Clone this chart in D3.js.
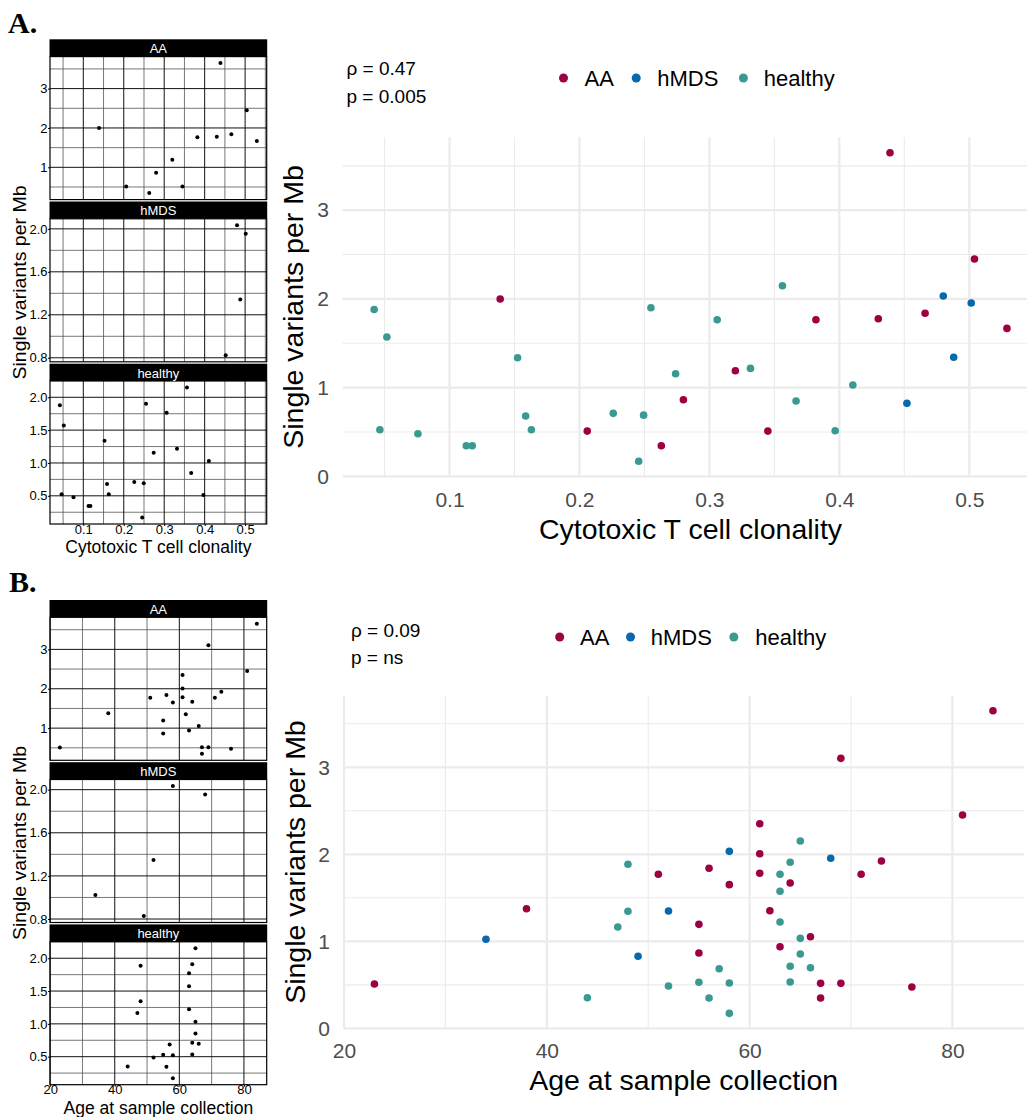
<!DOCTYPE html>
<html>
<head>
<meta charset="utf-8">
<script src="https://cdn.jsdelivr.net/npm/d3@7"></script>
<style>
  body { margin: 0; background: #fff; }
  svg { display: block; font-family: "Liberation Sans", Arial, Helvetica, sans-serif; }
</style>
</head>
<body>
<svg id="fig" width="1027" height="1117"></svg>
<script>
// ---- groups ----
const groups = ["AA", "hMDS", "healthy"];
const groupColors = { AA: "#9E0142", hMDS: "#0868AC", healthy: "#3A9A92" };

// ---- A: cytotoxic T cell clonality vs single variants per Mb ----
const clonalityAA = [0.139, 0.206, 0.263, 0.280, 0.320, 0.345, 0.382, 0.430, 0.439, 0.466, 0.504, 0.529];
const clonVariantsAA = [2.00, 0.51, 0.345, 0.864, 1.19, 0.51, 1.766, 1.777, 3.648, 1.838, 2.45, 1.668];
const clonalityMDS = [0.452, 0.480, 0.488, 0.5015];
const clonVariantsMDS = [0.823, 2.033, 1.342, 1.954];
const clonalityHealthy = [0.042, 0.0518, 0.0464, 0.0757, 0.1129, 0.1175, 0.1524, 0.1586, 0.163, 0.226,
                          0.2494, 0.2456, 0.255, 0.274, 0.306, 0.3316, 0.3562, 0.3667, 0.3968, 0.4104];
const clonVariantsHealthy = [1.88, 1.57, 0.525, 0.48, 0.345, 0.345, 1.337, 0.68, 0.525, 0.71,
                             0.69, 0.17, 1.90, 1.157, 1.766, 1.217, 2.149, 0.849, 0.514, 1.029];
const clonalityTicks = [0.1, 0.2, 0.3, 0.4, 0.5];
const clonalityStats = ["\u03C1 = 0.47", "p = 0.005"];

// ---- B: age at sample collection vs single variants per Mb ----
const ageAA = [23, 38, 51, 56, 58, 55, 55, 61, 61, 61, 62, 63, 64, 66, 67, 67, 69, 69, 71, 73, 76, 81, 84];
const ageVariantsAA = [0.509, 1.375, 1.77, 1.839, 1.651, 1.195, 0.865, 2.352, 2.007, 1.782, 1.352, 0.938,
                       1.67, 1.053, 0.517, 0.348, 0.517, 3.103, 1.77, 1.923, 0.475, 2.452, 3.65];
const ageMDS = [34, 49, 52, 58, 68];
const ageVariantsMDS = [1.023, 0.828, 1.348, 2.034, 1.954];
const ageHealthy = [48, 48, 47, 44, 52, 57, 55, 58, 56, 58, 63, 63, 63, 64, 65, 65, 65, 64, 66, 64];
const ageVariantsHealthy = [1.885, 1.345, 1.164, 0.352, 0.486, 0.685, 0.529, 0.521, 0.348, 0.172,
                            1.77, 1.575, 1.222, 1.908, 2.153, 1.034, 0.854, 0.713, 0.697, 0.532];
const ageTicks = [20, 40, 60, 80];
const ageStats = ["\u03C1 = 0.09", "p = ns"];

// ---- shared y ticks ----
const variantTicksMain = [0, 1, 2, 3];
const variantTicksFacet = {
  AA: [1, 2, 3],
  hMDS: [0.8, 1.2, 1.6, 2.0],
  healthy: [0.5, 1.0, 1.5, 2.0]
};
const facetTickFormat = { AA: d3.format("d"), hMDS: d3.format(".1f"), healthy: d3.format(".1f") };
const yTitle = "Single variants per Mb";

// ---- helpers ----
function expandDomain(vals) {
  const [lo, hi] = d3.extent(vals);
  const pad = (hi - lo) * 0.05;
  return [lo - pad, hi + pad];
}
function minorTicks(major, domain) {
  const step = major[1] - major[0];
  const out = [];
  for (let k = -1; k < major.length + 1; k++) {
    const v = major[0] + step * (k + 0.5);
    if (v >= domain[0] && v <= domain[1]) out.push(v);
  }
  return out;
}

const fig = d3.select("#fig");

function drawFigure(cfg) {
  const series = groups.map(g => ({ group: g, x: cfg.xs[g], y: cfg.ys[g] }));
  const allX = series.flatMap(s => s.x);
  const allY = series.flatMap(s => s.y);
  const xDomain = expandDomain(allX);
  const xMinor = minorTicks(cfg.xTicks, xDomain);

  // panel letter
  fig.append("text")
    .attr("x", cfg.letterX).attr("y", cfg.letterY)
    .attr("font-family", "'Liberation Serif', 'Times New Roman', serif")
    .attr("font-weight", "bold").attr("font-size", 30)
    .text(cfg.letter);

  // ---------- small faceted panels ----------
  const f = cfg.facet;
  const fx = d3.scaleLinear().domain(xDomain).range([f.left, f.right]);
  series.forEach((s, i) => {
    const stripTop = f.top + i * f.step;
    const pTop = stripTop + f.stripH;
    const pBot = pTop + f.panelH;
    const yDom = expandDomain(s.y);
    const fy = d3.scaleLinear().domain(yDom).range([pBot, pTop]);
    const yMajor = variantTicksFacet[s.group];
    const yMinor = minorTicks(yMajor, yDom);
    const g = fig.append("g");

    g.append("rect").attr("x", f.left).attr("y", pTop)
      .attr("width", f.right - f.left).attr("height", f.panelH).attr("fill", "#fff");

    // minor grid
    g.selectAll(null).data(xMinor).join("line")
      .attr("x1", d => fx(d)).attr("x2", d => fx(d)).attr("y1", pTop).attr("y2", pBot)
      .attr("stroke", "#555").attr("stroke-width", 0.8);
    g.selectAll(null).data(yMinor).join("line")
      .attr("x1", f.left).attr("x2", f.right).attr("y1", d => fy(d)).attr("y2", d => fy(d))
      .attr("stroke", "#555").attr("stroke-width", 0.8);
    // major grid
    g.selectAll(null).data(cfg.xTicks.filter(d => d >= xDomain[0] && d <= xDomain[1])).join("line")
      .attr("x1", d => fx(d)).attr("x2", d => fx(d)).attr("y1", pTop).attr("y2", pBot)
      .attr("stroke", "#111").attr("stroke-width", 1);
    g.selectAll(null).data(yMajor).join("line")
      .attr("x1", f.left).attr("x2", f.right).attr("y1", d => fy(d)).attr("y2", d => fy(d))
      .attr("stroke", "#111").attr("stroke-width", 1);

    // border
    g.append("rect").attr("x", f.left).attr("y", pTop)
      .attr("width", f.right - f.left).attr("height", f.panelH)
      .attr("fill", "none").attr("stroke", "#000").attr("stroke-width", 1.2);

    // strip
    g.append("rect").attr("x", f.left - 0.5).attr("y", stripTop)
      .attr("width", f.right - f.left + 1).attr("height", f.stripH).attr("fill", "#000");
    g.append("text").attr("x", (f.left + f.right) / 2).attr("y", stripTop + 13.8)
      .attr("text-anchor", "middle").attr("fill", "#fff").attr("font-size", 13)
      .text(s.group);

    // points
    g.selectAll(null).data(d3.range(s.x.length)).join("circle")
      .attr("cx", k => fx(s.x[k])).attr("cy", k => fy(s.y[k])).attr("r", 2)
      .attr("fill", "#000");

    // y axis
    const ay = g.append("g").attr("transform", `translate(${f.left},0)`)
      .call(d3.axisLeft(fy).tickValues(yMajor).tickFormat(facetTickFormat[s.group])
        .tickSize(2).tickPadding(0.5));
    ay.select(".domain").remove();
    ay.selectAll("text").attr("font-size", 13).attr("fill", "#000")
      .attr("font-family", "'Liberation Sans', Arial, sans-serif");
    ay.selectAll("line").attr("stroke", "#000");

    if (i === series.length - 1) {
      const ax = g.append("g").attr("transform", `translate(0,${pBot})`)
        .call(d3.axisBottom(fx).tickValues(cfg.xTicks).tickFormat(cfg.xFmt)
          .tickSize(2).tickPadding(-1.5));
      ax.select(".domain").remove();
      ax.selectAll("text").attr("font-size", 13).attr("fill", "#000")
        .attr("font-family", "'Liberation Sans', Arial, sans-serif");
      ax.selectAll("line").attr("stroke", "#000");
    }
  });
  fig.append("text").attr("x", (f.left + f.right) / 2).attr("y", f.xTitleY)
    .attr("text-anchor", "middle").attr("font-size", 17.5).text(cfg.xTitle);
  fig.append("text")
    .attr("transform", `translate(${f.yTitleX},${f.yTitleY}) rotate(-90)`)
    .attr("text-anchor", "middle").attr("font-size", 17.5)
    .attr("textLength", 194).attr("lengthAdjust", "spacingAndGlyphs")
    .text(yTitle);

  // ---------- main combined panel ----------
  const m = cfg.main;
  const mx = d3.scaleLinear().domain(xDomain).range([m.left, m.right]);
  const my = d3.scaleLinear().domain(expandDomain(allY)).range([m.bottom, m.top]);
  const yMinorMain = minorTicks(variantTicksMain, my.domain());
  const mg = fig.append("g");

  mg.selectAll(null).data(xMinor).join("line")
    .attr("x1", d => mx(d)).attr("x2", d => mx(d)).attr("y1", m.top).attr("y2", m.bottom)
    .attr("stroke", "#ebebeb").attr("stroke-width", 1.1);
  mg.selectAll(null).data(yMinorMain).join("line")
    .attr("x1", m.left).attr("x2", m.right).attr("y1", d => my(d)).attr("y2", d => my(d))
    .attr("stroke", "#ebebeb").attr("stroke-width", 1.1);
  mg.selectAll(null).data(cfg.xTicks).join("line")
    .attr("x1", d => mx(d)).attr("x2", d => mx(d)).attr("y1", m.top).attr("y2", m.bottom)
    .attr("stroke", "#ebebeb").attr("stroke-width", 2.2);
  mg.selectAll(null).data(variantTicksMain).join("line")
    .attr("x1", m.left).attr("x2", m.right).attr("y1", d => my(d)).attr("y2", d => my(d))
    .attr("stroke", "#ebebeb").attr("stroke-width", 2.2);

  series.forEach(s => {
    mg.selectAll(null).data(d3.range(s.x.length)).join("circle")
      .attr("cx", k => mx(s.x[k])).attr("cy", k => my(s.y[k])).attr("r", 3.8)
      .attr("fill", groupColors[s.group]);
  });

  const may = mg.append("g").attr("transform", `translate(${m.left},0)`)
    .call(d3.axisLeft(my).tickValues(variantTicksMain).tickFormat(d3.format("d"))
      .tickSize(0).tickPadding(13.5));
  may.select(".domain").remove();
  may.selectAll("text").attr("font-size", 21).attr("fill", "#4d4d4d")
    .attr("font-family", "'Liberation Sans', Arial, sans-serif");

  const max = mg.append("g").attr("transform", `translate(0,${m.bottom})`)
    .call(d3.axisBottom(mx).tickValues(cfg.xTicks).tickFormat(cfg.xFmt)
      .tickSize(0).tickPadding(15));
  max.select(".domain").remove();
  max.selectAll("text").attr("font-size", 21).attr("fill", "#4d4d4d")
    .attr("font-family", "'Liberation Sans', Arial, sans-serif");

  mg.append("text").attr("x", (m.left + m.right) / 2).attr("y", m.xTitleY)
    .attr("text-anchor", "middle").attr("font-size", 28.5).text(cfg.xTitle);
  mg.append("text")
    .attr("transform", `translate(${m.yTitleX},${(m.top + m.bottom) / 2}) rotate(-90)`)
    .attr("text-anchor", "middle").attr("font-size", 28.5).text(yTitle);

  // correlation statistics
  cfg.stats.forEach((t, k) => {
    mg.append("text").attr("x", m.statX).attr("y", m.statY + k * m.statGap)
      .attr("font-size", 19).text(t);
  });

  // legend
  groups.forEach((g, k) => {
    mg.append("circle").attr("cx", m.legendDotX[k]).attr("cy", m.legendY - 8).attr("r", 4.5)
      .attr("fill", groupColors[g]);
    mg.append("text").attr("x", m.legendTextX[k]).attr("y", m.legendY)
      .attr("font-size", 22).text(g);
  });
}

drawFigure({
  letter: "A.", letterX: 8, letterY: 33.3,
  xTitle: "Cytotoxic T cell clonality",
  xs: { AA: clonalityAA, hMDS: clonalityMDS, healthy: clonalityHealthy },
  ys: { AA: clonVariantsAA, hMDS: clonVariantsMDS, healthy: clonVariantsHealthy },
  xTicks: clonalityTicks, xFmt: d3.format(".1f"),
  stats: clonalityStats,
  facet: { left: 50, right: 266.7, top: 39.3, step: 162.2, stripH: 17.3, panelH: 143,
           xTitleY: 552.5, yTitleX: 25.5, yTitleY: 282.5 },
  main: { left: 342.5, right: 1038.6, top: 137.3, bottom: 476.7,
          xTitleY: 539, yTitleX: 303,
          statX: 346.5, statY: 75, statGap: 27.7,
          legendY: 86, legendDotX: [563.5, 636.2, 743.4], legendTextX: [584.6, 657.3, 763.7] }
});

drawFigure({
  letter: "B.", letterX: 9, letterY: 592.3,
  xTitle: "Age at sample collection",
  xs: { AA: ageAA, hMDS: ageMDS, healthy: ageHealthy },
  ys: { AA: ageVariantsAA, hMDS: ageVariantsMDS, healthy: ageVariantsHealthy },
  xTicks: ageTicks, xFmt: d3.format("d"),
  stats: ageStats,
  facet: { left: 50, right: 266.7, top: 600, step: 162.2, stripH: 17.3, panelH: 143,
           xTitleY: 1113.5, yTitleX: 25.5, yTitleY: 843 },
  main: { left: 343.5, right: 1023.9, top: 695.6, bottom: 1028.5,
          xTitleY: 1090, yTitleX: 305,
          statX: 351, statY: 637, statGap: 27.3,
          legendY: 645, legendDotX: [559.7, 630.5, 733.8], legendTextX: [580, 650.8, 755.3] }
});
</script>
</body>
</html>
